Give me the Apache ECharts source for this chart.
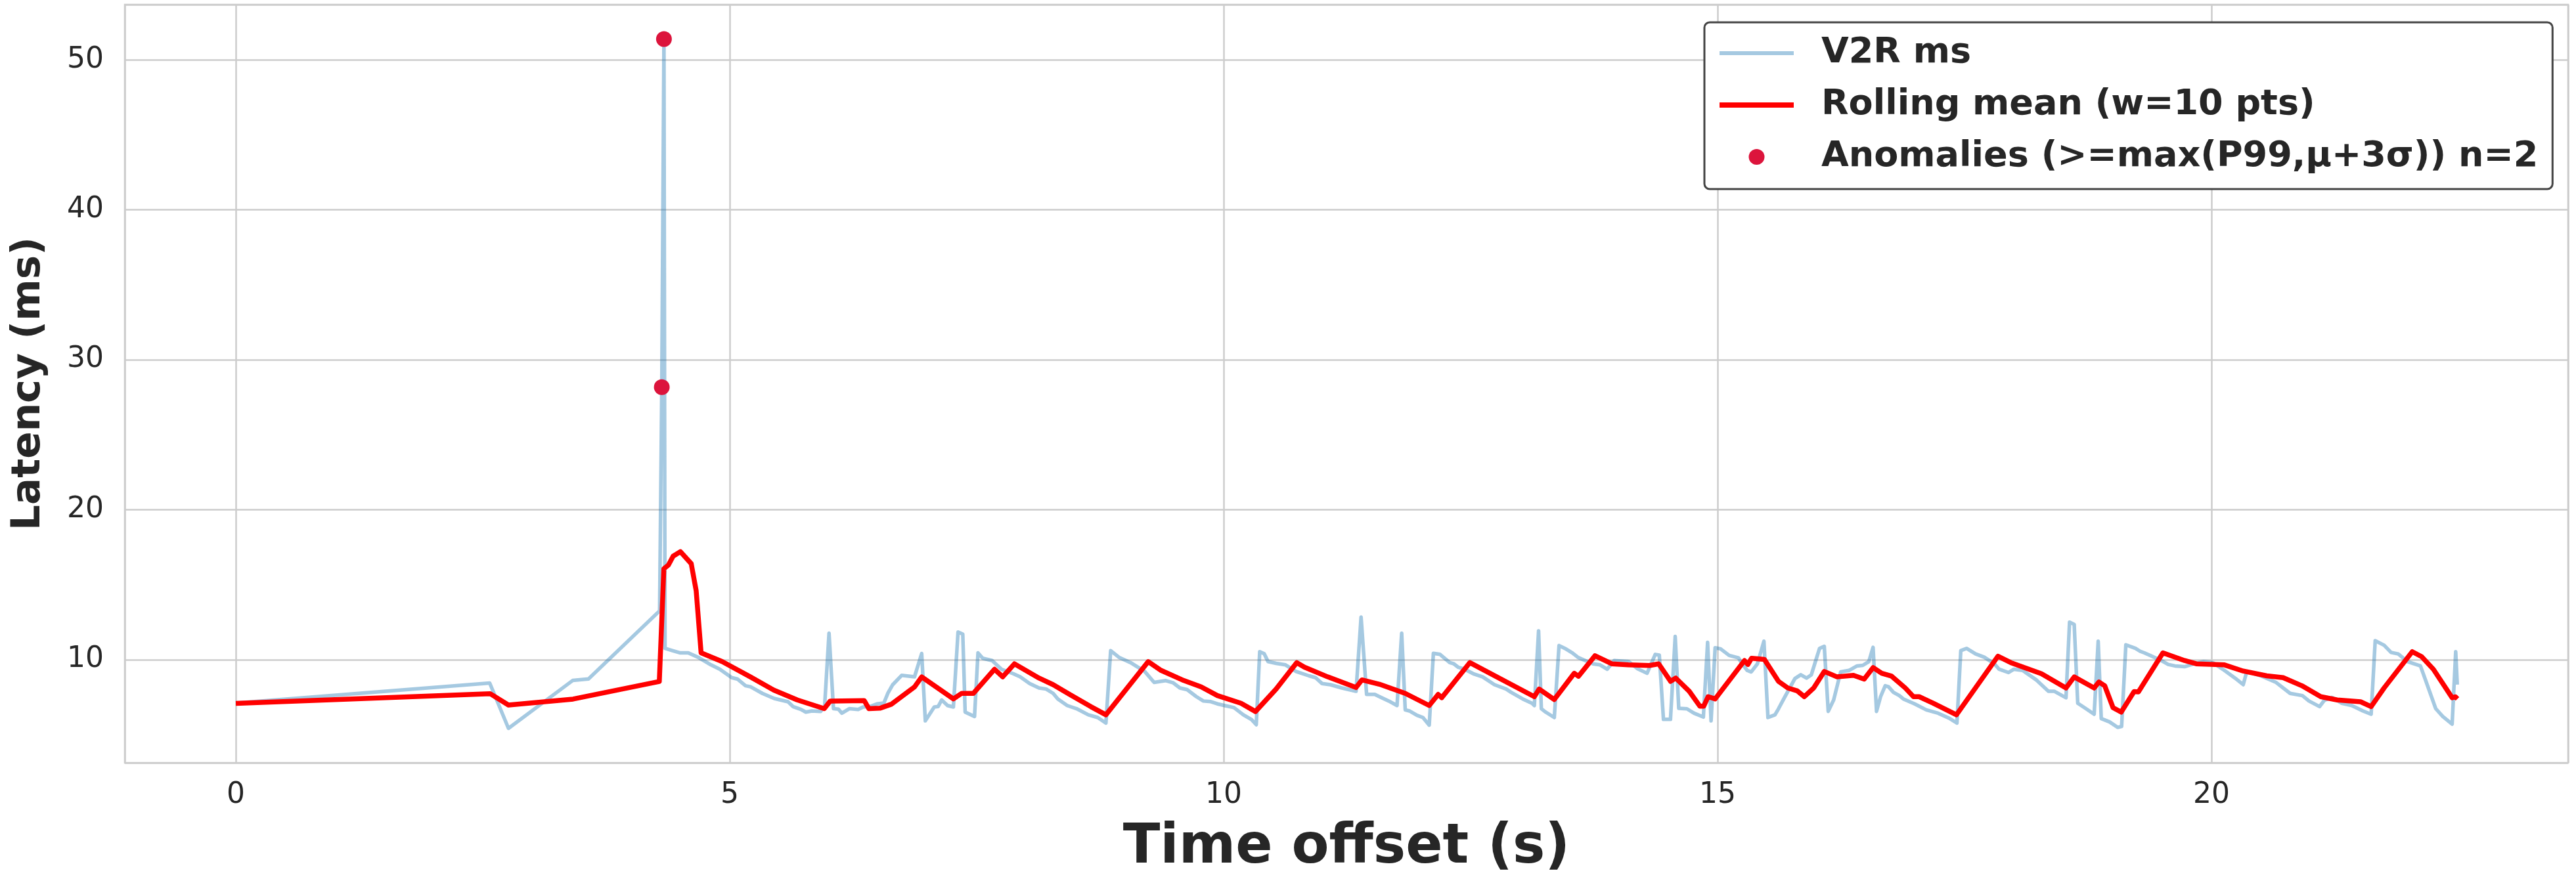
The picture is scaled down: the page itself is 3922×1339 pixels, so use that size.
<!DOCTYPE html>
<html>
<head>
<meta charset="utf-8">
<title>V2R latency</title>
<script src="https://cdn.jsdelivr.net/npm/echarts@6.0.0/dist/echarts.min.js"></script>
<style>
    html, body { margin: 0; padding: 0; background: #ffffff; }
    #chart { width: 3922px; height: 1339px; }
</style>
</head>
<body>
<div id="chart"></div>
<script>
// V2R latency samples (time offset in s, latency in ms)
const v2rTime = [
    0.00, 2.57, 2.76, 3.41, 3.57, 4.29, 4.312, 4.334, 4.345, 4.42,
    4.50, 4.58, 4.69, 4.81, 4.90, 5.02, 5.08, 5.16, 5.21, 5.33,
    5.45, 5.59, 5.64, 5.72, 5.77, 5.83, 5.92, 5.96, 6.005, 6.05,
    6.10, 6.135, 6.21, 6.30, 6.35, 6.42, 6.49, 6.56, 6.60, 6.65,
    6.74, 6.87, 6.943, 6.98, 7.07, 7.11, 7.145, 7.205, 7.264, 7.311,
    7.359, 7.383, 7.478, 7.513, 7.561, 7.656, 7.751, 7.87, 7.94, 8.036,
    8.131, 8.203, 8.274, 8.321, 8.416, 8.511, 8.63, 8.725, 8.808, 8.856,
    8.939, 9.058, 9.201, 9.296, 9.414, 9.49, 9.557, 9.63, 9.724, 9.795,
    9.87, 9.937, 10.009, 10.104, 10.199, 10.282, 10.33, 10.365, 10.41, 10.449,
    10.531, 10.626, 10.733, 10.864, 10.93, 10.995, 11.08, 11.197, 11.34, 11.391,
    11.447, 11.53, 11.577, 11.672, 11.755, 11.802, 11.838, 11.88, 11.957, 12.017,
    12.081, 12.123, 12.19, 12.289, 12.33, 12.373, 12.44, 12.527, 12.622, 12.741,
    12.86, 12.91, 13.027, 13.121, 13.145, 13.188, 13.216, 13.26, 13.347, 13.395,
    13.454, 13.53, 13.585, 13.66, 13.739, 13.81, 13.882, 13.953, 14.10, 14.191,
    14.286, 14.369, 14.41, 14.452, 14.523, 14.571, 14.607, 14.69, 14.761, 14.856,
    14.899, 14.934, 14.975, 15.03, 15.117, 15.212, 15.24, 15.30, 15.34, 15.403,
    15.469, 15.51, 15.581, 15.617, 15.676, 15.783, 15.842, 15.90, 15.949, 15.997,
    16.032, 16.08, 16.12, 16.175, 16.246, 16.33, 16.412, 16.47, 16.531, 16.574,
    16.609, 16.65, 16.697, 16.73, 16.78, 16.84, 16.88, 16.995, 17.113, 17.232,
    17.351, 17.423, 17.462, 17.52, 17.612, 17.70, 17.803, 17.85, 17.945, 18.00,
    18.088, 18.23, 18.349, 18.41, 18.527, 18.563, 18.61, 18.646, 18.729, 18.812,
    18.853, 18.884, 18.967, 19.05, 19.09, 19.133, 19.23, 19.276, 19.32, 19.395,
    19.49, 19.561, 19.63, 19.727, 19.846, 19.92, 20.013, 20.131, 20.238, 20.321,
    20.357, 20.511, 20.654, 20.796, 20.92, 20.987, 21.094, 21.141, 21.22, 21.319,
    21.42, 21.533, 21.616, 21.657, 21.747, 21.818, 21.89, 21.985, 22.115, 22.163,
    22.27, 22.341, 22.436, 22.472, 22.488
];
const v2rMs = [
    7.10, 8.44, 5.42, 8.61, 8.71, 13.25, 28.17, 51.38, 10.75, 10.60,
    10.45, 10.45, 10.12, 9.65, 9.36, 8.80, 8.70, 8.26, 8.19, 7.75,
    7.41, 7.19, 6.87, 6.68, 6.50, 6.58, 6.55, 6.87, 11.77, 6.73,
    6.70, 6.43, 6.73, 6.68, 6.84, 6.87, 7.05, 7.10, 7.75, 8.33,
    8.95, 8.85, 10.41, 5.92, 6.84, 6.87, 7.31, 6.94, 6.84, 11.84,
    11.70, 6.50, 6.21, 10.45, 10.09, 9.94, 9.36, 9.06, 8.85, 8.41,
    8.11, 8.04, 7.75, 7.38, 6.94, 6.73, 6.32, 6.14, 5.77, 10.60,
    10.16, 9.80, 9.21, 8.48, 8.60, 8.45, 8.11, 8.00, 7.53, 7.24,
    7.20, 7.05, 6.94, 6.80, 6.32, 6.00, 5.66, 10.53, 10.40, 9.87,
    9.75, 9.65, 9.21, 8.92, 8.80, 8.41, 8.33, 8.11, 7.89, 12.84,
    7.68, 7.68, 7.53, 7.24, 6.94, 11.77, 6.65, 6.58, 6.29, 6.14,
    5.63, 10.42, 10.35, 9.80, 9.72, 9.50, 9.36, 9.06, 8.85, 8.33,
    8.04, 7.82, 7.38, 7.09, 6.94, 11.92, 6.73, 6.50, 6.14, 10.94,
    10.75, 10.45, 10.16, 9.94, 9.72, 9.65, 9.36, 9.94, 9.87, 9.39,
    9.09, 10.35, 10.30, 6.02, 6.02, 11.55, 6.75, 6.72, 6.43, 6.17,
    11.15, 5.92, 10.79, 10.72, 10.28, 10.12, 9.80, 9.28, 9.18, 9.72,
    11.23, 6.14, 6.32, 6.73, 7.46, 8.74, 8.99, 8.77, 8.99, 10.01,
    10.75, 10.89, 6.55, 7.31, 9.18, 9.28, 9.58, 9.62, 9.87, 10.82,
    6.55, 7.53, 8.26, 8.19, 7.82, 7.60, 7.38, 7.05, 6.65, 6.43,
    6.07, 5.77, 10.60, 10.75, 10.38, 10.16, 9.72, 9.36, 9.14, 9.36,
    9.28, 8.63, 7.89, 7.89, 7.46, 12.50, 12.35, 7.09, 6.73, 6.36,
    11.23, 6.07, 5.85, 5.48, 5.55, 10.99, 10.75, 10.56, 10.45, 10.23,
    9.94, 9.68, 9.58, 9.53, 9.77, 9.87, 9.80, 9.28, 8.77, 8.33,
    9.21, 8.89, 8.48, 7.75, 7.60, 7.24, 6.87, 7.28, 7.48, 7.09,
    6.94, 6.58, 6.36, 11.26, 10.96, 10.48, 10.38, 9.87, 9.58, 8.70,
    6.73, 6.21, 5.70, 10.53, 8.33
];

// rolling mean (w=10 pts)
const meanTime = [
    0.00, 2.574, 2.76, 3.414, 4.287, 4.333, 4.378, 4.427, 4.50, 4.61,
    4.66, 4.71, 4.923, 5.209, 5.446, 5.684, 5.957, 6.017, 6.361, 6.409,
    6.52, 6.634, 6.872, 6.943, 7.264, 7.347, 7.466, 7.68, 7.763, 7.882,
    8.131, 8.274, 8.44, 8.654, 8.808, 9.236, 9.367, 9.581, 9.771, 9.937,
    10.175, 10.322, 10.531, 10.74, 10.817, 11.054, 11.34, 11.399, 11.577, 11.838,
    12.081, 12.171, 12.207, 12.492, 12.765, 13.145, 13.193, 13.347, 13.549, 13.592,
    13.759, 13.929, 14.096, 14.31, 14.404, 14.524, 14.576, 14.713, 14.82, 14.86,
    14.904, 14.975, 15.272, 15.307, 15.343, 15.474, 15.617, 15.711, 15.806, 15.878,
    15.973, 16.08, 16.21, 16.376, 16.484, 16.574, 16.662, 16.76, 16.90, 16.983,
    17.04, 17.185, 17.418, 17.838, 17.969, 18.278, 18.527, 18.61, 18.812, 18.86,
    18.919, 19.003, 19.086, 19.216, 19.26, 19.508, 19.727, 19.846, 20.131, 20.321,
    20.559, 20.725, 20.915, 21.106, 21.272, 21.509, 21.616, 21.747, 22.032, 22.127,
    22.246, 22.436, 22.47, 22.49
];
const meanMs = [
    7.08, 7.73, 6.97, 7.37, 8.54, 16.06, 16.30, 16.90, 17.20, 16.40,
    14.60, 10.45, 9.87, 8.85, 7.97, 7.31, 6.73, 7.24, 7.27, 6.73,
    6.76, 7.02, 8.19, 8.85, 7.38, 7.75, 7.75, 9.36, 8.85, 9.72,
    8.77, 8.33, 7.68, 6.87, 6.32, 9.87, 9.28, 8.65, 8.19, 7.60,
    7.09, 6.54, 8.04, 9.80, 9.50, 8.85, 8.14, 8.65, 8.36, 7.75,
    6.94, 7.68, 7.46, 9.80, 8.85, 7.53, 8.04, 7.34, 9.09, 8.89,
    10.26, 9.72, 9.65, 9.61, 9.72, 8.55, 8.77, 7.89, 6.90, 6.90,
    7.53, 7.38, 9.94, 9.68, 10.09, 10.01, 8.55, 8.11, 7.92, 7.53,
    8.11, 9.21, 8.85, 8.95, 8.70, 9.47, 9.09, 8.90, 8.11, 7.53,
    7.53, 7.09, 6.32, 10.23, 9.80, 9.06, 8.11, 8.85, 8.11, 8.51,
    8.26, 6.80, 6.50, 7.87, 7.85, 10.45, 9.94, 9.72, 9.65, 9.24,
    8.92, 8.80, 8.26, 7.53, 7.31, 7.19, 6.87, 8.11, 10.53, 10.20,
    9.36, 7.46, 7.52, 7.38
];

// anomalies (>= max(P99, mu+3sigma))
const anomTime = [4.312, 4.334];
const anomMs = [28.17, 51.38];

const seriesNames = ["V2R ms", "Rolling mean (w=10 pts)", "Anomalies (>=max(P99,\u03bc+3\u03c3)) n=2"];

const xMin = -1.124;
const xMax = 23.61;
const yMin = 3.12;
const yMax = 53.68;

function pairs(xs, ys) {
    return xs.map((x, i) => [x, ys[i]]);
}

function initChart() {
    const chart = echarts.init(document.getElementById("chart"), null, { renderer: "canvas" });
    const font = "DejaVu Sans";
    const textColor = "#262626";

    chart.setOption({
        animation: false,
        backgroundColor: "#ffffff",
        grid: {
            left: 190,
            right: 12,
            top: 7,
            bottom: 177,
            show: true,
            borderColor: "#cccccc",
            borderWidth: 2.5,
            containLabel: false
        },
        legend: {
            left: 2595,
            top: 34,
            orient: "vertical",
            itemWidth: 113,
            itemHeight: 24,
            itemGap: 15,
            padding: [15, 22, 17, 19],
            backgroundColor: "#ffffff",
            borderColor: "#444444",
            borderWidth: 3,
            borderRadius: 8,
            textStyle: {
                fontFamily: font,
                fontWeight: "bold",
                fontSize: 54,
                lineHeight: 64,
                color: textColor,
                padding: [0, 0, 0, 37]
            },
            data: [
                {
                    name: seriesNames[0],
                    itemStyle: { opacity: 0 },
                    lineStyle: { color: "#a5c9e1", width: 6, opacity: 1 }
                },
                {
                    name: seriesNames[1],
                    itemStyle: { opacity: 0 },
                    lineStyle: { color: "#ff0000", width: 8, opacity: 1 }
                },
                { name: seriesNames[2], icon: "circle" }
            ]
        },
        xAxis: {
            type: "value",
            min: xMin,
            max: xMax,
            splitNumber: 5,
            minInterval: 5,
            maxInterval: 5,
            name: "Time offset (s)",
            nameLocation: "middle",
            nameGap: 89,
            nameTextStyle: {
                fontFamily: font,
                fontWeight: "bold",
                fontSize: 83,
                lineHeight: 83,
                color: textColor
            },
            axisLine: { show: false },
            axisTick: { show: false },
            axisLabel: {
                margin: 28,
                fontFamily: font,
                fontSize: 44,
                lineHeight: 44,
                color: textColor,
                formatter: (v) => (Math.abs(v / 5 - Math.round(v / 5)) < 1e-6 ? String(Math.round(v)) : "")
            },
            splitLine: { show: true, lineStyle: { color: "#cccccc", width: 2.5 } }
        },
        yAxis: {
            type: "value",
            min: yMin,
            max: yMax,
            splitNumber: 5,
            minInterval: 10,
            maxInterval: 10,
            name: "Latency (ms)",
            nameLocation: "middle",
            nameGap: 115,
            nameTextStyle: {
                fontFamily: font,
                fontWeight: "bold",
                fontSize: 61,
                lineHeight: 61,
                color: textColor
            },
            axisLine: { show: false },
            axisTick: { show: false },
            axisLabel: {
                margin: 32,
                fontFamily: font,
                fontSize: 44,
                color: textColor,
                formatter: (v) => (Math.abs(v / 10 - Math.round(v / 10)) < 1e-6 ? String(Math.round(v)) : "")
            },
            splitLine: { show: true, lineStyle: { color: "#cccccc", width: 2.5 } }
        },
        series: [
            {
                name: seriesNames[0],
                type: "line",
                symbol: "none",
                data: pairs(v2rTime, v2rMs),
                itemStyle: { color: "#1f77b4" },
                lineStyle: { color: "#1f77b4", width: 5.5, opacity: 0.4, join: "round" },
                z: 2
            },
            {
                name: seriesNames[1],
                type: "line",
                symbol: "none",
                data: pairs(meanTime, meanMs),
                itemStyle: { color: "#ff0000" },
                lineStyle: { color: "#ff0000", width: 7.5, join: "round" },
                z: 3
            },
            {
                name: seriesNames[2],
                type: "scatter",
                symbol: "circle",
                symbolSize: 24,
                data: pairs(anomTime, anomMs),
                itemStyle: { color: "#dc143c", opacity: 1 },
                z: 4
            }
        ]
    });
}

initChart();
</script>
</body>
</html>
